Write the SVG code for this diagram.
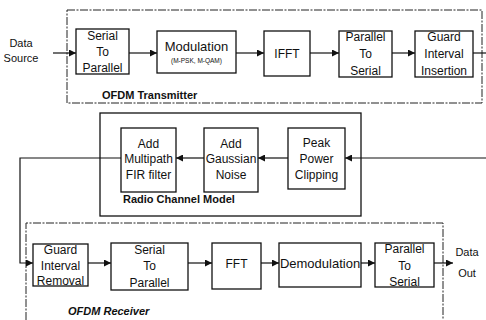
<svg xmlns="http://www.w3.org/2000/svg" width="486" height="320" viewBox="0 0 486 320">
<style>
.bg{fill:#fff}
.blk{fill:#fff;stroke:#111;stroke-width:1.3}
.dash{fill:none;stroke:#222;stroke-width:1;stroke-dasharray:8 1.5 2 1.5}
.solid{fill:none;stroke:#111;stroke-width:1.3}
.t{font-family:"Liberation Sans",Arial,sans-serif;font-size:12px;fill:#111;text-anchor:middle}
.l{font-family:"Liberation Sans",Arial,sans-serif;font-size:13px;fill:#111;text-anchor:middle}
.d{font-family:"Liberation Sans",Arial,sans-serif;font-size:11px;fill:#111;text-anchor:middle}
.s{font-family:"Liberation Sans",Arial,sans-serif;font-size:6.5px;fill:#111;text-anchor:middle}
.b{font-family:"Liberation Sans",Arial,sans-serif;font-size:11px;font-weight:bold;fill:#111}
.bi{font-family:"Liberation Sans",Arial,sans-serif;font-size:11px;font-weight:bold;font-style:italic;fill:#111}
.c{fill:none;stroke:#111;stroke-width:1.2}
</style>
<defs>
<marker id="ah" viewBox="0 0 10 10" refX="10" refY="5" markerWidth="7" markerHeight="7" markerUnits="userSpaceOnUse" orient="auto">
<path d="M0,0 L10,5 L0,10 z" fill="#111"/>
</marker>
</defs>
<rect class="bg" width="486" height="320"/>

<g id="transmitter">
<rect class="dash" x="67" y="10" width="415" height="93"/>
<text class="b" x="102" y="99">OFDM Transmitter</text>
</g>
<g id="channel">
<rect class="solid" x="100" y="113" width="261" height="103"/>
<text class="b" x="123" y="203">Radio Channel Model</text>
</g>
<g id="receiver">
<path class="dash" d="M26,320 L26,223 L443,223 L443,320"/>
<text class="bi" x="68" y="315">OFDM Receiver</text>
</g>

<g id="data-source"><text class="d" x="21" y="47">Data</text><text class="d" x="21" y="62">Source</text></g>
<g id="tx-s2p"><rect class="blk" x="76" y="29" width="53" height="45"/><text class="t" x="102.5" y="40">Serial</text><text class="t" x="102.5" y="56">To</text><text class="t" x="102.5" y="72">Parallel</text></g>
<g id="tx-mod"><rect class="blk" x="157" y="31" width="79" height="42"/><text class="l" x="196.5" y="51">Modulation</text><text class="s" x="196.5" y="63">(M-PSK, M-QAM)</text></g>
<g id="tx-ifft"><rect class="blk" x="264" y="31" width="46" height="45"/><text class="t" x="287" y="58">IFFT</text></g>
<g id="tx-p2s"><rect class="blk" x="339" y="31" width="53" height="46"/><text class="t" x="365.5" y="41">Parallel</text><text class="t" x="365.5" y="58">To</text><text class="t" x="365.5" y="75">Serial</text></g>
<g id="tx-gi"><rect class="blk" x="415" y="31" width="58" height="46"/><text class="t" x="444" y="41">Guard</text><text class="t" x="444" y="58">Interval</text><text class="t" x="444" y="75">Insertion</text></g>

<g id="ch-fir"><rect class="blk" x="121" y="128" width="55" height="64"/><text class="t" x="148.5" y="148">Add</text><text class="t" x="148.5" y="163">Multipath</text><text class="t" x="148.5" y="179">FIR filter</text></g>
<g id="ch-noise"><rect class="blk" x="204" y="128" width="54" height="64"/><text class="t" x="231" y="148">Add</text><text class="t" x="231" y="163">Gaussian</text><text class="t" x="231" y="179">Noise</text></g>
<g id="ch-clip"><rect class="blk" x="288" y="128" width="57" height="61"/><text class="t" x="316.5" y="147">Peak</text><text class="t" x="316.5" y="163">Power</text><text class="t" x="316.5" y="179">Clipping</text></g>

<g id="rx-gi"><rect class="blk" x="33" y="244" width="55" height="42"/><text class="t" x="60.5" y="254">Guard</text><text class="t" x="60.5" y="270">Interval</text><text class="t" x="60.5" y="285">Removal</text></g>
<g id="rx-s2p"><rect class="blk" x="111" y="243" width="77" height="47"/><text class="t" x="149.5" y="254">Serial</text><text class="t" x="149.5" y="270">To</text><text class="t" x="149.5" y="287">Parallel</text></g>
<g id="rx-fft"><rect class="blk" x="212" y="243" width="49" height="46"/><text class="t" x="236.5" y="268">FFT</text></g>
<g id="rx-demod"><rect class="blk" x="279" y="243" width="82" height="44"/><text class="l" x="320" y="268">Demodulation</text></g>
<g id="rx-p2s"><rect class="blk" x="375" y="243" width="59" height="44"/><text class="t" x="404.5" y="253">Parallel</text><text class="t" x="404.5" y="270">To</text><text class="t" x="404.5" y="286">Serial</text></g>
<g id="data-out"><text class="d" x="467" y="256">Data</text><text class="d" x="467" y="277">Out</text></g>

<g id="connectors">
<path class="c" d="M53,53 H76" marker-end="url(#ah)"/>
<path class="c" d="M129,53 H157" marker-end="url(#ah)"/>
<path class="c" d="M236,53 H264" marker-end="url(#ah)"/>
<path class="c" d="M310,53 H339" marker-end="url(#ah)"/>
<path class="c" d="M392,53 H415" marker-end="url(#ah)"/>
<path class="c" d="M473,53 H486"/>
<path class="c" d="M486,158 H345" marker-end="url(#ah)"/>
<path class="c" d="M288,158 H258" marker-end="url(#ah)"/>
<path class="c" d="M204,158 H176" marker-end="url(#ah)"/>
<path class="c" d="M121,158 H20 V263 H33" marker-end="url(#ah)"/>
<path class="c" d="M88,263 H111" marker-end="url(#ah)"/>
<path class="c" d="M188,263 H212" marker-end="url(#ah)"/>
<path class="c" d="M261,263 H279" marker-end="url(#ah)"/>
<path class="c" d="M361,263 H375" marker-end="url(#ah)"/>
<path class="c" d="M434,263 H453" marker-end="url(#ah)"/>
</g>
</svg>
